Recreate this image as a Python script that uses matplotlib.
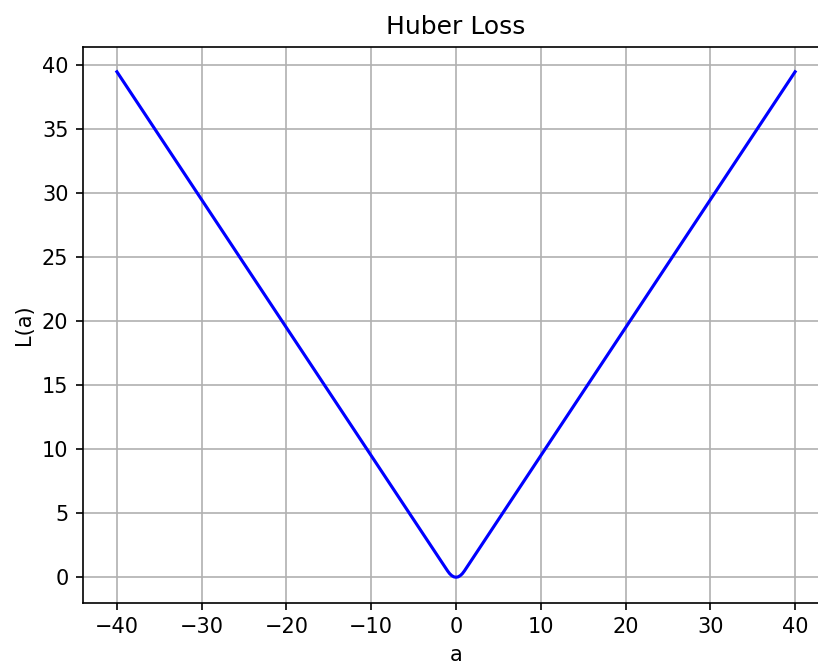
import matplotlib
matplotlib.use("Agg")
import matplotlib.pyplot as plt

# Sampled points of the loss curve (residual a, loss L(a))
a_values = [-40, -1.0, -0.75, -0.5, -0.25, 0.0, 0.25, 0.5, 0.75, 1.0, 40]
loss_values = [39.5, 0.5, 0.28, 0.125, 0.03, 0.0, 0.03, 0.125, 0.28, 0.5, 39.5]

x_ticks = [-40, -30, -20, -10, 0, 10, 20, 30, 40]
y_ticks = [0, 5, 10, 15, 20, 25, 30, 35, 40]

DPI = 150
fig = plt.figure(figsize=(818 / DPI, 665 / DPI), dpi=DPI)
ax = fig.add_axes([83.0 / 818, (665 - 602.5) / 665, 746 / 818, 556 / 665])

ax.plot(a_values, loss_values, color="blue")
ax.set_xticks(x_ticks)
ax.set_yticks(y_ticks)
ax.set_title("Huber Loss")
ax.set_xlabel("a")
ax.set_ylabel("L(a)")
ax.grid(True)

fig.savefig("out.png", dpi=DPI)
